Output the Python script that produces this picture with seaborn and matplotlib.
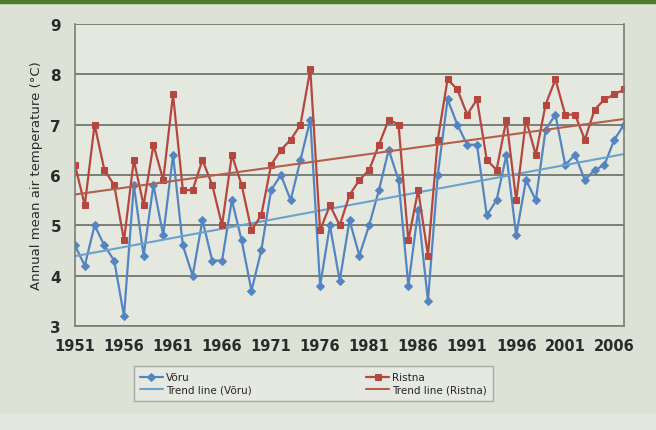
import numpy as np
import pandas as pd
import matplotlib
matplotlib.use('Agg')
import matplotlib.pyplot as plt
import seaborn as sns
from matplotlib.patches import Rectangle

sns.set_style('white')
plt.rcParams['font.family'] = ['DejaVu Sans']

# annual mean air temperature, 1951-2007
years = list(range(1951, 2008))
voru = [4.6, 4.2, 5.0, 4.6, 4.3, 3.2, 5.8, 4.4, 5.8, 4.8,
        6.4, 4.6, 4.0, 5.1, 4.3, 4.3, 5.5, 4.7, 3.7, 4.5,
        5.7, 6.0, 5.5, 6.3, 7.1, 3.8, 5.0, 3.9, 5.1, 4.4,
        5.0, 5.7, 6.5, 5.9, 3.8, 5.3, 3.5, 6.0, 7.5, 7.0,
        6.6, 6.6, 5.2, 5.5, 6.4, 4.8, 5.9, 5.5, 6.9, 7.2,
        6.2, 6.4, 5.9, 6.1, 6.2, 6.7, 7.0]
ristna = [6.2, 5.4, 7.0, 6.1, 5.8, 4.7, 6.3, 5.4, 6.6, 5.9,
          7.6, 5.7, 5.7, 6.3, 5.8, 5.0, 6.4, 5.8, 4.9, 5.2,
          6.2, 6.5, 6.7, 7.0, 8.1, 4.9, 5.4, 5.0, 5.6, 5.9,
          6.1, 6.6, 7.1, 7.0, 4.7, 5.7, 4.4, 6.7, 7.9, 7.7,
          7.2, 7.5, 6.3, 6.1, 7.1, 5.5, 7.1, 6.4, 7.4, 7.9,
          7.2, 7.2, 6.7, 7.3, 7.5, 7.6, 7.7]
xticks = list(range(1951, 2007, 5))
yticks = [3, 4, 5, 6, 7, 8, 9]

blue = '#5585c0'
red = '#b4473f'
blue_trend = '#6aa2cf'
red_trend = '#b45e4c'

df = pd.DataFrame({'year': years, 'Võru': voru, 'Ristna': ristna})

fig = plt.figure(figsize=(6.56, 4.31), dpi=100, facecolor='#dde2d6')
ax = fig.add_axes([0.1143, 0.2413, 0.837, 0.7007])
ax.set_facecolor('#e4e8df')

sns.lineplot(data=df, x='year', y='Võru', ax=ax, color=blue, marker='D',
             markersize=4, markeredgecolor=blue, linewidth=1.6, label='Võru')
sns.regplot(data=df, x='year', y='Võru', ax=ax, scatter=False, ci=None,
            truncate=True, color=blue_trend, line_kws={'linewidth': 1.5},
            label='Trend line (Võru)')
sns.lineplot(data=df, x='year', y='Ristna', ax=ax, color=red, marker='s',
             markersize=4.5, markeredgecolor=red, linewidth=1.6, label='Ristna')
sns.regplot(data=df, x='year', y='Ristna', ax=ax, scatter=False, ci=None,
            truncate=True, color=red_trend, line_kws={'linewidth': 1.5},
            label='Trend line (Ristna)')

ax.set_xlim(1951, 2007)
ax.set_ylim(3, 9)
ax.set_xticks(xticks)
ax.set_yticks(yticks)
ax.yaxis.grid(True, color='#73786f', linewidth=1.3)
ax.set_axisbelow(True)
ax.tick_params(axis='x', length=4, direction='out', color='#7a7e75',
               labelsize=10.5, pad=5)
ax.tick_params(axis='y', length=0, labelsize=11, pad=10)
for lbl in ax.get_xticklabels() + ax.get_yticklabels():
    lbl.set_fontweight('semibold')
    lbl.set_color('#2b2b2b')
for side in ['left', 'right', 'bottom']:
    ax.spines[side].set_color('#7a7e75')
    ax.spines[side].set_linewidth(1.2)
ax.spines['top'].set_visible(False)
ax.set_xlabel('')
ax.set_ylabel('Annual mean air temperature (°C)', fontsize=9.5,
              color='#2b2b2b', labelpad=5)

handles, labels = ax.get_legend_handles_labels()
ax.get_legend().remove()
leg = fig.legend(handles, labels, ncol=2, loc='upper left',
                 bbox_to_anchor=(0.196, 0.16), fontsize=7.5,
                 frameon=True, fancybox=False, edgecolor='#a8aca3',
                 facecolor='#e6e9e2', framealpha=1, columnspacing=11,
                 handlelength=2.2, handletextpad=0.3, labelspacing=0.2,
                 borderpad=0.6)

# page decoration: green band at top, lighter strip at bottom
fig.patches.append(Rectangle((0, 0.99), 1, 0.01, transform=fig.transFigure,
                             color='#4e7a2e', zorder=0))
fig.patches.append(Rectangle((0, 0), 1, 0.037, transform=fig.transFigure,
                             color='#e3e7dd', zorder=0))

fig.savefig('out.png', dpi=100, facecolor=fig.get_facecolor())
